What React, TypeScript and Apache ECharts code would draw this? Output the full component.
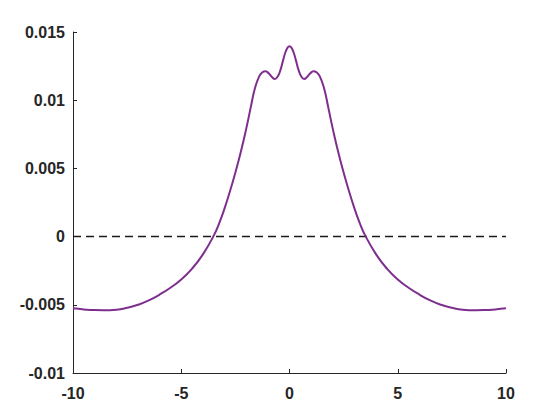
import React, { useEffect, useRef } from "react";
import * as echarts from "echarts";

const xValues = [
  -10, -9.5, -9, -8.6, -8, -7.5, -7, -6.5, -6, -5.5, -5, -4.5, -4, -3.5, -3.25, -3, -2.75, -2.5, -2.25, -2, -1.8, -1.6, -1.4, -1.25, -1.1, -0.95, -0.8, -0.68, -0.55, -0.42, -0.3, -0.18, -0.08, 0,
  0.08, 0.18, 0.3, 0.42, 0.55, 0.68, 0.8, 0.95, 1.1, 1.25, 1.4, 1.6, 1.8, 2, 2.25, 2.5, 2.75, 3, 3.25, 3.5, 4, 4.5, 5, 5.5, 6, 6.5, 7, 7.5, 8, 8.6, 9, 9.5, 10,
];
const yValues = [
  -0.00526, -0.00534, -0.00539, -0.0054, -0.00536, -0.00522, -0.005, -0.00468, -0.00425, -0.00375, -0.00315, -0.00235, -0.0013, 0.00007, 0.00097, 0.00207, 0.00332, 0.0047, 0.0062, 0.0079, 0.0094, 0.01085, 0.01175, 0.01205, 0.01212, 0.01195, 0.01168, 0.01155, 0.01172, 0.0122, 0.0129, 0.01355, 0.01387, 0.01395,
  0.01387, 0.01355, 0.0129, 0.0122, 0.01172, 0.01155, 0.01168, 0.01195, 0.01212, 0.01205, 0.01175, 0.01085, 0.0094, 0.0079, 0.0062, 0.0047, 0.00332, 0.00207, 0.00097, 0.00007, -0.0013, -0.00235, -0.00315, -0.00375, -0.00425, -0.00468, -0.005, -0.00522, -0.00536, -0.0054, -0.00539, -0.00534, -0.00526,
];
const zeroLineX = [-10, 10];
const zeroLineY = [0, 0];

export default function App() {
  const ref = useRef<HTMLDivElement>(null);
  useEffect(() => {
    if (!ref.current) return;
    const chart = echarts.init(ref.current, null, { renderer: "svg" });
    const labelStyle = {
      fontFamily: "Liberation Sans, Arial, sans-serif",
      fontWeight: "bold" as const,
      fontSize: 16,
      color: "#262626",
    };
    const fmt = (v: number) => String(parseFloat(Number(v).toPrecision(6)));
    chart.setOption({
      animation: false,
      backgroundColor: "#ffffff",
      grid: { left: 73, right: 54, top: 32, bottom: 47, containLabel: false },
      xAxis: {
        type: "value",
        min: -10,
        max: 10,
        interval: 5,
        axisLine: { show: true, onZero: false, lineStyle: { color: "#262626", width: 1 } },
        axisTick: { show: true, inside: true, length: 4, lineStyle: { color: "#262626" } },
        axisLabel: { ...labelStyle, margin: 12, formatter: fmt },
        splitLine: { show: false },
      },
      yAxis: {
        type: "value",
        min: -0.01,
        max: 0.015,
        interval: 0.005,
        axisLine: { show: true, onZero: false, lineStyle: { color: "#262626", width: 1 } },
        axisTick: { show: true, inside: true, length: 4, lineStyle: { color: "#262626" } },
        axisLabel: { ...labelStyle, margin: 8, formatter: fmt },
        splitLine: { show: false },
      },
      series: [
        {
          type: "line",
          data: zeroLineX.map((x, i) => [x, zeroLineY[i]]),
          showSymbol: false,
          lineStyle: { color: "#1a1a1a", width: 1.5, type: [8, 5] },
          z: 1,
        },
        {
          type: "line",
          data: xValues.map((x, i) => [x, yValues[i]]),
          showSymbol: false,
          smooth: 0.5,
          lineStyle: { color: "#7E2F8E", width: 2 },
          z: 2,
        },
      ],
    });
    return () => chart.dispose();
  }, []);
  return (
    <div
      ref={ref}
      style={{ position: "fixed", left: 0, top: 0, width: 560, height: 420 }}
    />
  );
}
